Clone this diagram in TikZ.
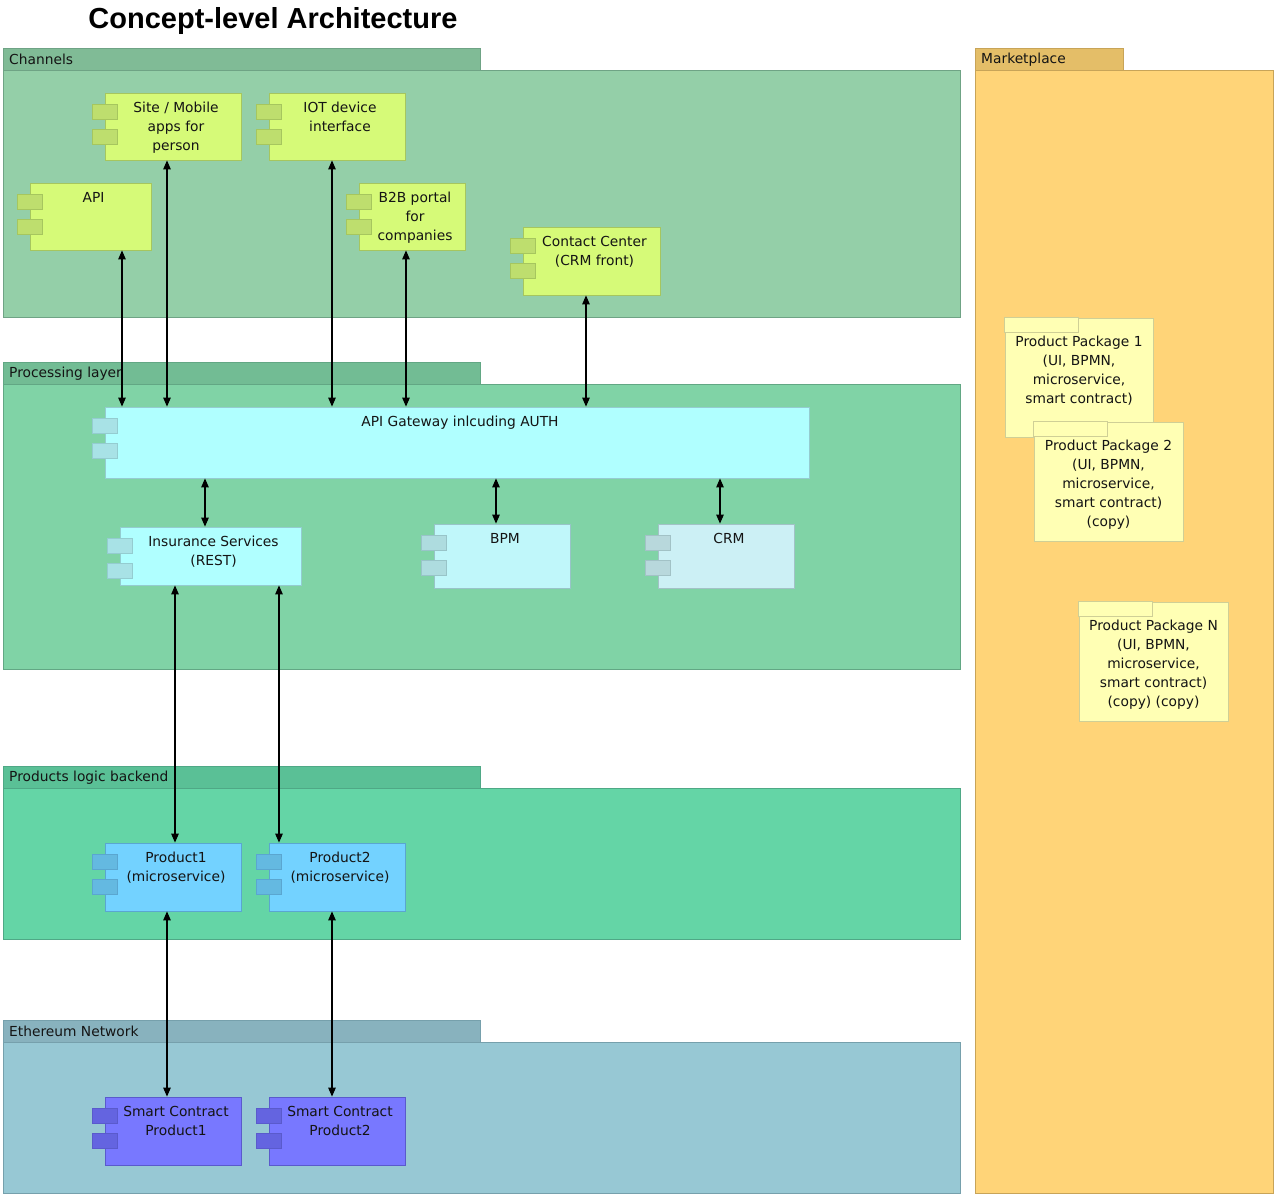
\documentclass[tikz,border=0pt]{standalone}
\usepackage{fontspec}
\setmainfont{DejaVu Sans}
\newfontfamily\titlefont{Liberation Sans}
\usetikzlibrary{arrows.meta,calc}
% layer colours
\definecolor{chTab}{HTML}{80BB96}
\definecolor{chBody}{HTML}{94CFA8}
\definecolor{chLine}{HTML}{6FA385}
\definecolor{prTab}{HTML}{72BC94}
\definecolor{prBody}{HTML}{80D3A6}
\definecolor{prLine}{HTML}{62A784}
\definecolor{plTab}{HTML}{5AC096}
\definecolor{plBody}{HTML}{64D5A6}
\definecolor{plLine}{HTML}{4FA886}
\definecolor{etTab}{HTML}{88B2BE}
\definecolor{etBody}{HTML}{97C8D4}
\definecolor{etLine}{HTML}{76A0AC}
\definecolor{mkTab}{HTML}{E4BE68}
\definecolor{mkBody}{HTML}{FFD478}
\definecolor{mkLine}{HTML}{C8A458}
% component colours
\definecolor{chanFill}{HTML}{D6FA78}
\definecolor{chanTabF}{HTML}{BEDE6E}
\definecolor{chanLine}{HTML}{A6C65E}
\definecolor{gwyFill}{HTML}{B0FFFF}
\definecolor{gwyTabF}{HTML}{A8E2E6}
\definecolor{gwyLine}{HTML}{94CCD0}
\definecolor{bpmFill}{HTML}{C0F7FA}
\definecolor{bpmTabF}{HTML}{AEDCDF}
\definecolor{bpmLine}{HTML}{98C4C8}
\definecolor{crmFill}{HTML}{CCF0F5}
\definecolor{crmTabF}{HTML}{B8D8DC}
\definecolor{crmLine}{HTML}{A2C2C6}
\definecolor{prodFill}{HTML}{73D2FF}
\definecolor{prodTabF}{HTML}{64B9E1}
\definecolor{prodLine}{HTML}{5AA6D0}
\definecolor{smartFill}{HTML}{7878FF}
\definecolor{smartTabF}{HTML}{6464E0}
\definecolor{smartLine}{HTML}{5A5ACC}
\definecolor{pkgFill}{HTML}{FFFFB4}
\definecolor{pkgLine}{HTML}{CFCF96}
\definecolor{txt}{HTML}{141414}

\tikzset{
  lbl/.style={font=\fontsize{13.8}{19}\selectfont, text=txt, align=center, inner sep=0pt},
  laylbl/.style={font=\fontsize{13.8}{19}\selectfont, text=txt, inner sep=0pt, anchor=west},
  conn/.style={draw=black, line width=1.1pt, {Triangle[length=9pt,width=7.5pt]}-{Triangle[length=9pt,width=7.5pt]}},
  chanbody/.style={draw=chanLine, fill=chanFill, line width=0.8pt},
  chantab/.style={draw=chanLine, fill=chanTabF, line width=0.8pt},
  gwybody/.style={draw=gwyLine, fill=gwyFill, line width=0.8pt},
  gwytab/.style={draw=gwyLine, fill=gwyTabF, line width=0.8pt},
  bpmbody/.style={draw=bpmLine, fill=bpmFill, line width=0.8pt},
  bpmtab/.style={draw=bpmLine, fill=bpmTabF, line width=0.8pt},
  crmbody/.style={draw=crmLine, fill=crmFill, line width=0.8pt},
  crmtab/.style={draw=crmLine, fill=crmTabF, line width=0.8pt},
  prodbody/.style={draw=prodLine, fill=prodFill, line width=0.8pt},
  prodtab/.style={draw=prodLine, fill=prodTabF, line width=0.8pt},
  smartbody/.style={draw=smartLine, fill=smartFill, line width=0.8pt},
  smarttab/.style={draw=smartLine, fill=smartTabF, line width=0.8pt},
  pkgbox/.style={draw=pkgLine, fill=pkgFill, line width=0.8pt},
}

% component: name, x1, y1, x2, y2, style prefix, text
\newcommand\mycomp[7]{%
  \node[#6body, rectangle, inner sep=0pt, minimum width={#4-#2}, minimum height={#5-#3}] (#1) at ({(#2+#4)/2},{(#3+#5)/2}) {};
  \draw[#6tab] ($(#1.north west)+(-12,12)$) rectangle ++(25,15);
  \draw[#6tab] ($(#1.north west)+(-12,37)$) rectangle ++(25,15);
  \node[lbl, anchor=north] (#1t) at ($(#1.north)+(3,9.5)$) {#7};
}
% package: name, x1, y1, x2, y2, text
\newcommand\mypkg[6]{%
  \node[pkgbox, rectangle, inner sep=0pt, minimum width={#4-#2}, minimum height={#5-#3}] (#1) at ({(#2+#4)/2},{(#3+#5)/2}) {};
  \draw[pkgbox] (#1.north west) rectangle ++(74,15);
  \node[lbl, anchor=north] (#1t) at ($(#1.north)+(0,18.5)$) {#6};
}

\begin{document}
\begin{tikzpicture}[x=1pt,y=-1pt]
\useasboundingbox (0,0) rectangle (1275,1195);
\fill[white] (0,0) rectangle (1275,1195);

% title
\node[font=\titlefont\bfseries\fontsize{29}{32}\selectfont, text=black, inner sep=0pt] (title) at (273,20.5) {Concept-level Architecture};

% layers
\draw[draw=chLine, fill=chTab, line width=0.8pt] (3,48) rectangle (480,70);
\draw[draw=chLine, fill=chBody, line width=0.8pt] (3,70) rectangle (960,317);
\node[laylbl] (chL) at (9,59.5) {Channels};

\draw[draw=prLine, fill=prTab, line width=0.8pt] (3,362) rectangle (480,384);
\draw[draw=prLine, fill=prBody, line width=0.8pt] (3,384) rectangle (960,669);
\node[laylbl] (prL) at (9,373.5) {Processing layer};

\draw[draw=plLine, fill=plTab, line width=0.8pt] (3,766) rectangle (480,788);
\draw[draw=plLine, fill=plBody, line width=0.8pt] (3,788) rectangle (960,939);
\node[laylbl] (plL) at (9,777.5) {Products logic backend};

\draw[draw=etLine, fill=etTab, line width=0.8pt] (3,1020) rectangle (480,1042);
\draw[draw=etLine, fill=etBody, line width=0.8pt] (3,1042) rectangle (960,1193);
\node[laylbl] (etL) at (9,1031.5) {Ethereum Network};

\draw[draw=mkLine, fill=mkTab, line width=0.8pt] (975,48) rectangle (1123,70);
\draw[draw=mkLine, fill=mkBody, line width=0.8pt] (975,70) rectangle (1273,1193);
\node[laylbl] (mkL) at (981,59.5) {Marketplace};

% channel components
\mycomp{site}{105}{93}{241}{160}{chan}{Site / Mobile\\apps for\\person}
\mycomp{iot}{269}{93}{405}{160}{chan}{IOT device\\interface}
\mycomp{api}{30}{183}{151}{250}{chan}{API}
\mycomp{b2b}{359}{183}{465}{250}{chan}{B2B portal\\for\\companies}
\mycomp{cc}{523}{227}{660}{295}{chan}{Contact Center\\(CRM front)}

% processing components
\mycomp{gw}{105}{407}{809}{478}{gwy}{API Gateway inlcuding AUTH}
\mycomp{ins}{120}{527}{301}{585}{gwy}{Insurance Services\\(REST)}
\mycomp{bpm}{434}{524}{570}{588}{bpm}{BPM}
\mycomp{crm}{658}{524}{794}{588}{crm}{CRM}

% products
\mycomp{p1}{105}{843}{241}{911}{prod}{Product1\\(microservice)}
\mycomp{p2}{269}{843}{405}{911}{prod}{Product2\\(microservice)}

% smart contracts
\mycomp{s1}{105}{1097}{241}{1165}{smart}{Smart Contract\\Product1}
\mycomp{s2}{269}{1097}{405}{1165}{smart}{Smart Contract\\Product2}

% marketplace packages
\mypkg{pk1}{1005}{318}{1153}{437}{Product Package 1\\(UI, BPMN,\\microservice,\\smart contract)}
\mypkg{pk2}{1034}{422}{1183}{541}{Product Package 2\\(UI, BPMN,\\microservice,\\smart contract)\\(copy)}
\mypkg{pkn}{1079}{602}{1228}{721}{Product Package N\\(UI, BPMN,\\microservice,\\smart contract)\\(copy) (copy)}

% connector columns
\coordinate (xApi) at (122,0);
\coordinate (xSite) at (167,0);
\coordinate (xIot) at (332,0);
\coordinate (xB2b) at (406,0);
\coordinate (xCc) at (586,0);
\coordinate (xIns) at (205,0);
\coordinate (xBpm) at (496,0);
\coordinate (xCrm) at (720,0);
\coordinate (xP1) at (175,0);
\coordinate (xP2) at (279,0);
\coordinate (xS1) at (167,0);
\coordinate (xS2) at (332,0);

% connectors
\draw[conn] (api.south -| xApi) -- (gw.north -| xApi);
\draw[conn] (site.south -| xSite) -- (gw.north -| xSite);
\draw[conn] (iot.south -| xIot) -- (gw.north -| xIot);
\draw[conn] (b2b.south -| xB2b) -- (gw.north -| xB2b);
\draw[conn] (cc.south -| xCc) -- (gw.north -| xCc);
\draw[conn] (gw.south -| xIns) -- (ins.north -| xIns);
\draw[conn] (gw.south -| xBpm) -- (bpm.north -| xBpm);
\draw[conn] (gw.south -| xCrm) -- (crm.north -| xCrm);
\draw[conn] (ins.south -| xP1) -- (p1.north -| xP1);
\draw[conn] (ins.south -| xP2) -- (p2.north -| xP2);
\draw[conn] (p1.south -| xS1) -- (s1.north -| xS1);
\draw[conn] (p2.south -| xS2) -- (s2.north -| xS2);
\end{tikzpicture}
\end{document}
